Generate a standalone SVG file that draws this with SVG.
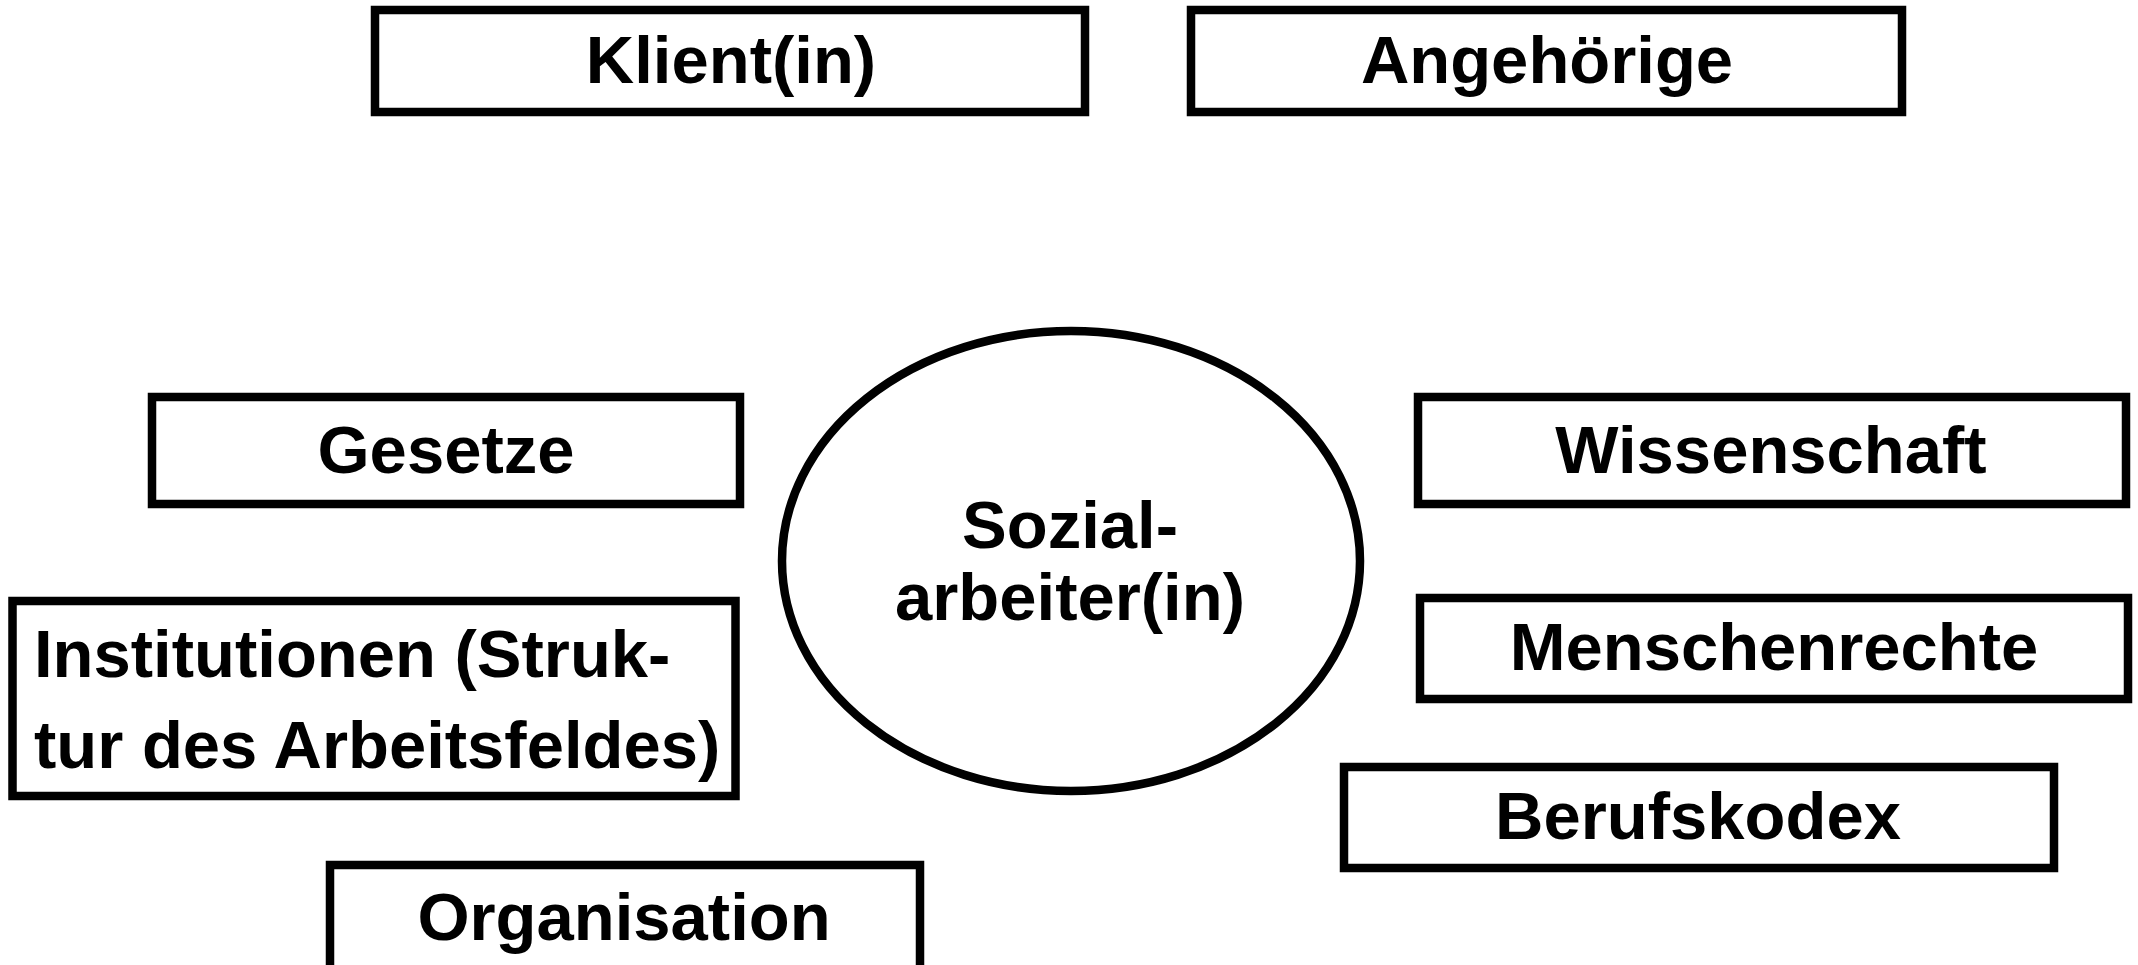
<svg xmlns="http://www.w3.org/2000/svg" width="2138" height="965" viewBox="0 0 2138 965">
<style>
.box{fill:#fff;stroke:#000;stroke-width:8.5}
.t{font-family:"Liberation Sans",Arial,sans-serif;font-weight:bold;font-size:67px;fill:#000}
.c{text-anchor:middle}
</style>
<rect width="2138" height="965" fill="#fff"/>
<g id="connectors"></g>
<g id="klient"><rect class="box" x="375" y="10" width="710" height="102"/><text class="t c" x="731" y="83">Klient(in)</text></g>
<g id="angehoerige"><rect class="box" x="1191" y="10" width="711" height="102"/><text class="t c" x="1547" y="83">Angehörige</text></g>
<g id="gesetze"><rect class="box" x="152" y="397" width="588" height="107"/><text class="t c" x="446" y="473">Gesetze</text></g>
<g id="wissenschaft"><rect class="box" x="1418" y="397" width="708" height="107"/><text class="t c" x="1771" y="473">Wissenschaft</text></g>
<g id="menschenrechte"><rect class="box" x="1420" y="598" width="708" height="101"/><text class="t c" x="1774" y="670">Menschenrechte</text></g>
<g id="berufskodex"><rect class="box" x="1344" y="767" width="710" height="101"/><text class="t c" x="1698" y="839">Berufskodex</text></g>
<g id="institutionen"><rect class="box" x="12.5" y="601" width="723" height="195"/><text class="t" x="34" y="677">Institutionen (Struk-</text><text class="t" x="34" y="768">tur des Arbeitsfeldes)</text></g>
<g id="organisation"><rect class="box" x="330" y="865" width="590" height="110"/><text class="t c" x="624" y="940">Organisation</text></g>
<g id="sozialarbeiter"><ellipse class="box" cx="1071" cy="561" rx="289" ry="230"/><text class="t c" x="1070" y="548">Sozial-</text><text class="t c" x="1070" y="620">arbeiter(in)</text></g>
</svg>
